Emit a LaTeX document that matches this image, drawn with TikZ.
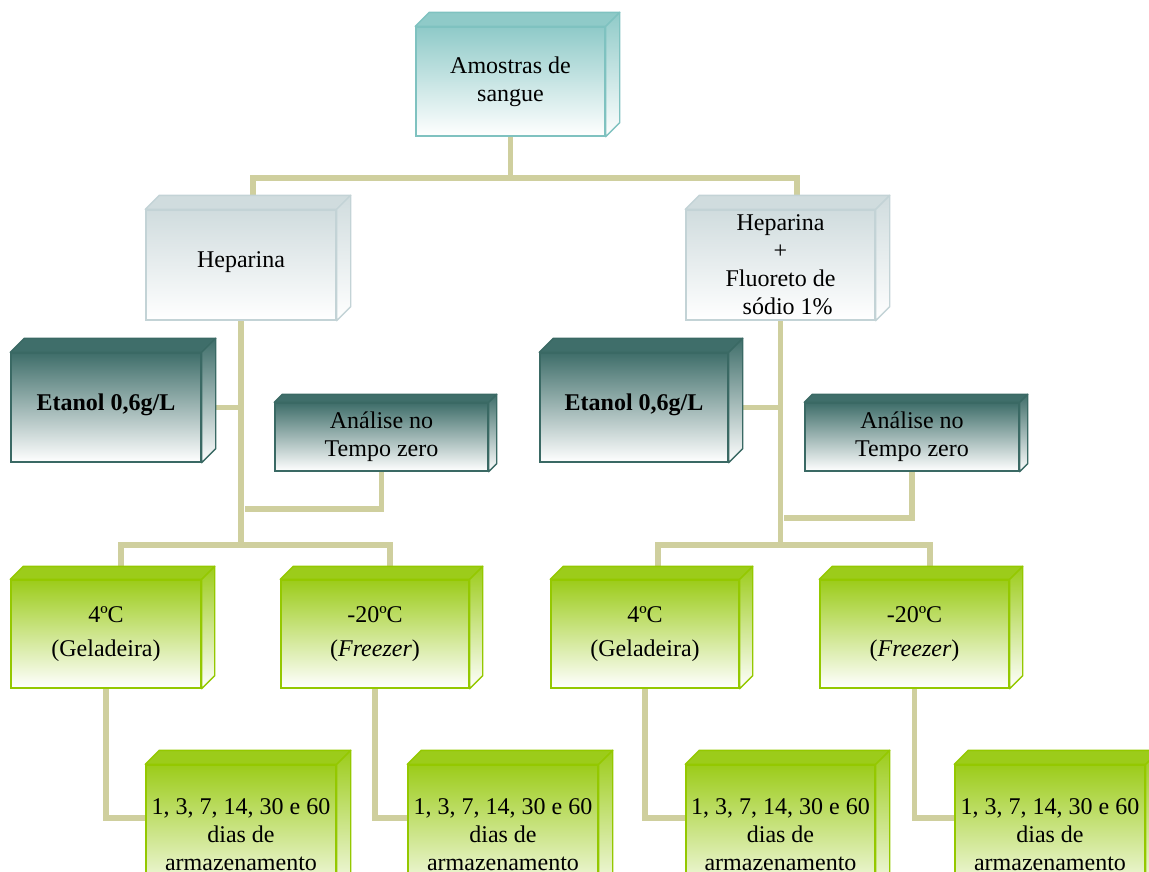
\documentclass[tikz,border=0pt]{standalone}
\usepackage{fontspec}
\setmainfont{Liberation Serif}
\usetikzlibrary{calc,backgrounds}
\definecolor{tealA}{HTML}{8FCAC8}
\definecolor{tealB}{HTML}{7FC2C0}
\definecolor{grayA}{HTML}{D0DCDE}
\definecolor{grayB}{HTML}{C3D3D6}
\definecolor{darkA}{HTML}{3F6E6A}
\definecolor{darkB}{HTML}{3A6964}
\definecolor{greenA}{HTML}{9CCC1A}
\definecolor{greenB}{HTML}{94C800}
\definecolor{connC}{HTML}{CFCF9E}
\newcommand\cubefaces[3]{%
  \path[draw=#3B, fill=#3A, line width=1.4pt, line join=round]
    (#1.north west) -- ++(#2,#2) -- ($(#1.north east)+(#2,#2)$) -- (#1.north east) -- cycle;
  \path[draw=#3B, top color=#3A, bottom color=white, line width=1.4pt, line join=round]
    (#1.north east) -- ++(#2,#2) -- ($(#1.south east)+(#2,#2)$) -- (#1.south east) -- cycle;
}
\begin{document}
\begin{tikzpicture}[x=1pt,y=1pt,
  cube/.style={rectangle, inner sep=0pt, align=center, line width=1.4pt,
    font=\fontsize{24}{28}\selectfont, bottom color=white, middle color=white!88!#1A, top color=#1A, draw=#1B},
  conn/.style={draw=connC, line width=5.5pt}]
\useasboundingbox (0,0) rectangle (1149,-871);
\clip (0,0) rectangle (1149,-871);

% level 0
\node[cube=teal, minimum width=189pt, minimum height=109pt] (amo) at (510.5,-81.5) {Amostras de\\sangue};
\cubefaces{amo}{14}{teal}
% level 1
\node[cube=gray, minimum width=190pt, minimum height=110pt] (hepL) at (241,-265) {\raisebox{10pt}{Heparina}};
\cubefaces{hepL}{14}{gray}
\node[cube=gray, minimum width=189pt, minimum height=110pt] (hepR) at (780.5,-265) {Heparina\\+\\Fluoreto de\\\hspace*{0.6em}sódio 1\%};
\cubefaces{hepR}{14}{gray}
% etanol / analise
\node[cube=dark, minimum width=190pt, minimum height=109pt] (etaL) at (106,-407.5) {\raisebox{10pt}{\bfseries Etanol 0,6g/L}};
\cubefaces{etaL}{14}{dark}
\node[cube=dark, minimum width=213pt, minimum height=68pt] (anaL) at (381.5,-437) {Análise no\\Tempo zero};
\cubefaces{anaL}{8}{dark}
\node[cube=dark, minimum width=188pt, minimum height=109pt] (etaR) at (634,-407.5) {\raisebox{10pt}{\bfseries Etanol 0,6g/L}};
\cubefaces{etaR}{14}{dark}
\node[cube=dark, minimum width=214pt, minimum height=68pt] (anaR) at (912,-437) {Análise no\\Tempo zero};
\cubefaces{anaR}{8}{dark}
% temperatures
\node[cube=green, minimum width=190pt, minimum height=108pt] (g4L) at (106,-634) {4ºC\\[6pt](Geladeira)};
\cubefaces{g4L}{13}{green}
\node[cube=green, minimum width=188pt, minimum height=108pt] (g20L) at (375,-634) {-20ºC\\[6pt](\textit{Freezer})};
\cubefaces{g20L}{13}{green}
\node[cube=green, minimum width=188pt, minimum height=108pt] (g4R) at (645,-634) {4ºC\\[6pt](Geladeira)};
\cubefaces{g4R}{13}{green}
\node[cube=green, minimum width=189pt, minimum height=108pt] (g20R) at (914.5,-634) {-20ºC\\[6pt](\textit{Freezer})};
\cubefaces{g20R}{13}{green}
% storage
\node[cube=green, minimum width=190pt, minimum height=140pt] (dL1) at (241,-835) {1, 3, 7, 14, 30 e 60\\dias de\\armazenamento};
\cubefaces{dL1}{14}{green}
\node[cube=green, minimum width=190pt, minimum height=140pt] (dL2) at (503,-835) {1, 3, 7, 14, 30 e 60\\dias de\\armazenamento};
\cubefaces{dL2}{14}{green}
\node[cube=green, minimum width=189pt, minimum height=140pt] (dR1) at (780.5,-835) {1, 3, 7, 14, 30 e 60\\dias de\\armazenamento};
\cubefaces{dR1}{14}{green}
\node[cube=green, minimum width=190pt, minimum height=140pt] (dR2) at (1050,-835) {1, 3, 7, 14, 30 e 60\\dias de\\armazenamento};
\cubefaces{dR2}{14}{green}

\begin{pgfonlayer}{background}
  \coordinate (j0) at (510.5,-178);
  \coordinate (hLt) at (253,-205);
  \coordinate (hRt) at (797,-205);
  \draw[conn] (amo.south) -- (j0);
  \draw[conn] (hLt) |- (j0) -| (hRt);
  % left branch
  \coordinate (jL) at (240.5,-545);
  \coordinate (g4Lt) at (121,-575);
  \coordinate (g20Lt) at (390,-575);
  \coordinate (aLe) at (245,-509);
  \draw[conn] (hepL.south) -- (hepL.south |- jL);
  \draw[conn] (g4Lt) |- (jL) -| (g20Lt);
  \draw[conn] (etaL.east) -- (etaL.east -| hepL.south);
  \draw[conn] (anaL.south) |- (aLe);
  % right branch
  \coordinate (jR) at (780.5,-545);
  \coordinate (g4Rt) at (658,-575);
  \coordinate (g20Rt) at (930,-575);
  \coordinate (aRe) at (784,-518);
  \draw[conn] (hepR.south) -- (hepR.south |- jR);
  \draw[conn] (g4Rt) |- (jR) -| (g20Rt);
  \draw[conn] (etaR.east) -- (etaR.east -| hepR.south);
  \draw[conn] (anaR.south) |- (aRe);
  % storage links
  \coordinate (dL1in) at (150,-818);
  \coordinate (dL2in) at (412,-818);
  \coordinate (dR1in) at (690,-818);
  \coordinate (dR2in) at (959,-818);
  \draw[conn] (g4L.south) |- (dL1in);
  \draw[conn] (g20L.south) |- (dL2in);
  \draw[conn] (g4R.south) |- (dR1in);
  \draw[conn] (g20R.south) |- (dR2in);
\end{pgfonlayer}
\end{tikzpicture}
\end{document}
